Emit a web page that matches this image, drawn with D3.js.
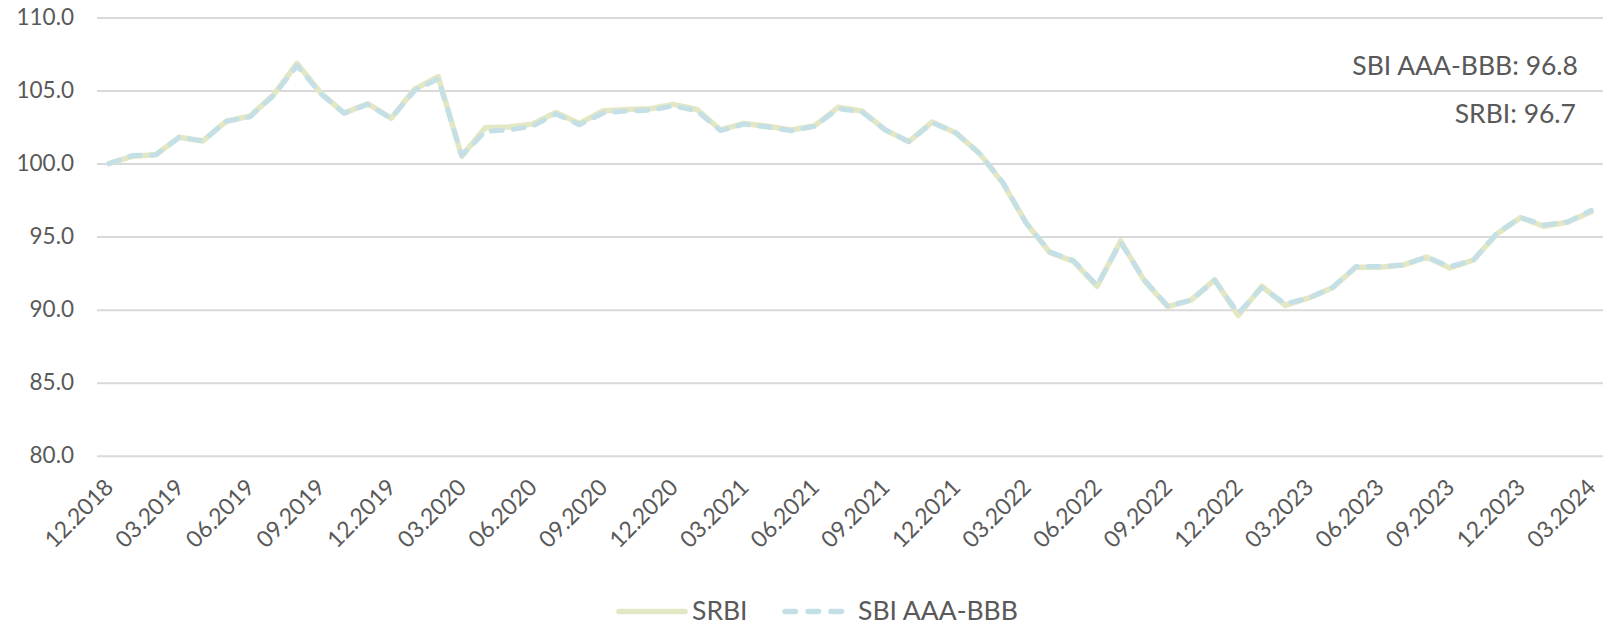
<!DOCTYPE html>
<html>
<head>
<meta charset="utf-8">
<script src="https://cdn.jsdelivr.net/npm/d3@7"></script>
<style>
  body { margin: 0; background: #fff; }
  svg text { font-family: Lato, "Open Sans", sans-serif; fill: #595959; }
</style>
</head>
<body>
<svg id="chart" width="1606" height="627"></svg>
<script>
// Monthly categories
const months = [
  "12.2018",
  "01.2019","02.2019","03.2019","04.2019","05.2019","06.2019","07.2019","08.2019","09.2019","10.2019","11.2019","12.2019",
  "01.2020","02.2020","03.2020","04.2020","05.2020","06.2020","07.2020","08.2020","09.2020","10.2020","11.2020","12.2020",
  "01.2021","02.2021","03.2021","04.2021","05.2021","06.2021","07.2021","08.2021","09.2021","10.2021","11.2021","12.2021",
  "01.2022","02.2022","03.2022","04.2022","05.2022","06.2022","07.2022","08.2022","09.2022","10.2022","11.2022","12.2022",
  "01.2023","02.2023","03.2023","04.2023","05.2023","06.2023","07.2023","08.2023","09.2023","10.2023","11.2023","12.2023",
  "01.2024","02.2024","03.2024"
];

// Series values
const srbi = [
  100.0, 100.5, 100.6, 101.8, 101.55, 102.9, 103.25, 104.7, 106.85, 104.85, 103.45, 104.1, 103.1,
  105.1, 105.95, 100.5, 102.45, 102.5, 102.7, 103.5, 102.75, 103.6, 103.7, 103.75, 104.05,
  103.7, 102.3, 102.75, 102.55, 102.3, 102.6, 103.85, 103.6, 102.3, 101.5, 102.85, 102.1,
  100.7, 98.65, 95.9, 93.9, 93.3, 91.6, 94.7, 92.0, 90.2, 90.65, 92.05, 89.6,
  91.6, 90.3, 90.8, 91.5, 92.9, 92.9, 93.05, 93.6, 92.85, 93.4, 95.2, 96.3,
  95.7, 96.0, 96.7
];
const sbi = [
  100.0, 100.55, 100.6, 101.8, 101.55, 102.9, 103.2, 104.65, 106.7, 104.8, 103.45, 104.05, 103.1,
  105.0, 105.8, 100.55, 102.2, 102.3, 102.55, 103.4, 102.65, 103.45, 103.6, 103.65, 103.95,
  103.6, 102.25, 102.7, 102.5, 102.25, 102.55, 103.75, 103.55, 102.3, 101.5, 102.8, 102.1,
  100.7, 98.7, 95.9, 93.95, 93.35, 91.65, 94.6, 92.05, 90.25, 90.65, 92.0, 89.75,
  91.5, 90.4, 90.8, 91.5, 92.95, 92.95, 93.05, 93.6, 92.95, 93.4, 95.25, 96.3,
  95.8, 96.0, 96.8
];

const yTicks = [80, 85, 90, 95, 100, 105, 110];
const seriesNames = ["SRBI", "SBI AAA-BBB"];

const svg = d3.select("#chart");

const plotLeft = 97, plotRight = 1603, plotTop = 17.5, plotBottom = 455.7;

// Category scale: points sit in the middle of each band
const x = d3.scaleBand().domain(months).range([plotLeft, plotRight]);
const xc = d => x(d) + x.bandwidth() / 2;
const y = d3.scaleLinear().domain([80, 110]).range([plotBottom, plotTop]);

// Gridlines + y labels
const yAxis = svg.append("g")
    .attr("transform", `translate(${plotLeft},0)`)
    .call(d3.axisLeft(y).tickValues(yTicks).tickSize(-(plotRight - plotLeft)).tickPadding(23).tickFormat(d3.format(".1f")));
yAxis.select(".domain").remove();
yAxis.selectAll(".tick line").attr("stroke", "#d9d9d9").attr("stroke-width", 2);
yAxis.selectAll(".tick text").style("font-size", "22.5px").attr("fill", "#595959");

// x labels, every third month, rotated
const xTicks = months.filter((d, i) => i % 3 === 0);
svg.append("g").selectAll("text")
    .data(xTicks)
    .enter().append("text")
    .attr("transform", d => `translate(${xc(d) + 6},${plotBottom + 33}) rotate(-45)`)
    .attr("text-anchor", "end")
    .style("font-size", "23px")
    .text(d => d);

// Lines
const line = vals => d3.line()
    .x((d, i) => xc(months[i]))
    .y(d => y(d))(vals);

svg.append("path")
    .attr("d", line(srbi))
    .attr("fill", "none")
    .attr("stroke", "#e3e7c4")
    .attr("stroke-width", 5.5)
    .attr("stroke-linejoin", "round")
    .attr("stroke-linecap", "round");

svg.append("path")
    .attr("d", line(sbi))
    .attr("fill", "none")
    .attr("stroke", "#c4e0e6")
    .attr("stroke-width", 5)
    .attr("stroke-dasharray", "11,11")
    .attr("stroke-linejoin", "round")
    .attr("stroke-linecap", "round");

// Last-value annotations
const fmt = d3.format(".1f");
svg.append("text")
    .attr("x", 1578).attr("y", 75)
    .attr("text-anchor", "end")
    .style("font-size", "26.5px")
    .text(`SBI AAA-BBB: ${fmt(sbi[sbi.length - 1])}`);
svg.append("text")
    .attr("x", 1576).attr("y", 123)
    .attr("text-anchor", "end")
    .style("font-size", "26.5px")
    .text(`SRBI: ${fmt(srbi[srbi.length - 1])}`);

// Legend
const legend = svg.append("g");
legend.append("line")
    .attr("x1", 619).attr("x2", 685).attr("y1", 611.5).attr("y2", 611.5)
    .attr("stroke", "#e3e7c4").attr("stroke-width", 5.5).attr("stroke-linecap", "round");
legend.append("text")
    .attr("x", 692).attr("y", 620)
    .style("font-size", "26.5px")
    .text(seriesNames[0]);
legend.append("line")
    .attr("x1", 785).attr("x2", 844).attr("y1", 611.5).attr("y2", 611.5)
    .attr("stroke", "#c4e0e6").attr("stroke-width", 5.5).attr("stroke-linecap", "round")
    .attr("stroke-dasharray", "10.5,12.5");
legend.append("text")
    .attr("x", 858).attr("y", 620)
    .style("font-size", "26.5px")
    .text(seriesNames[1]);
</script>
</body>
</html>
